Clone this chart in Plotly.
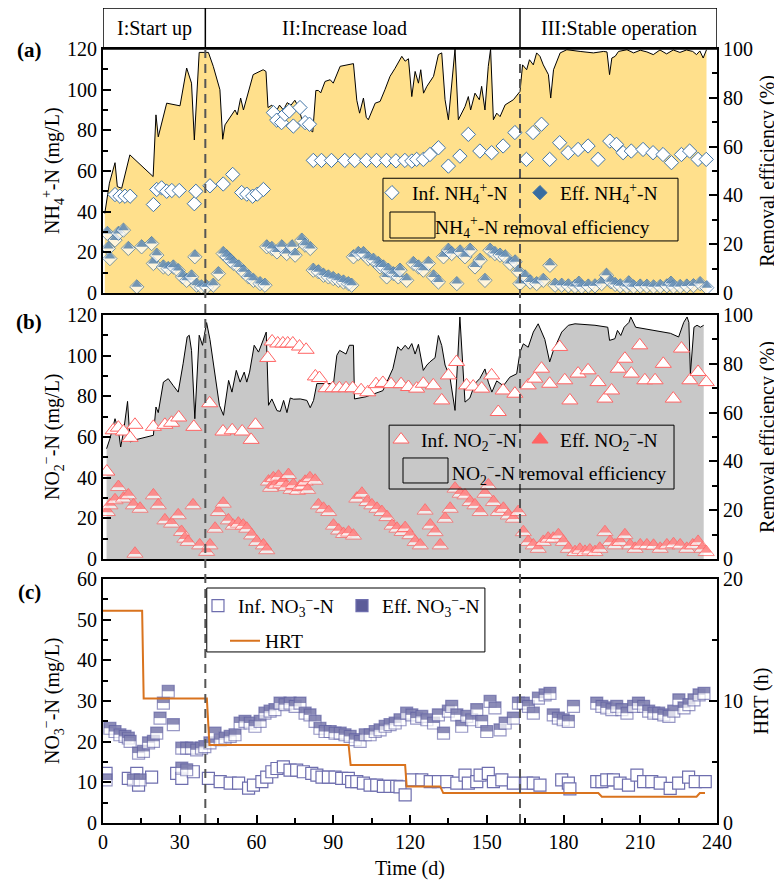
import numpy as np
import plotly.graph_objects as go

FONT = "Liberation Serif"

# ---------------- data: panel (a) NH4+-N ----------------
nh4_re_day = [0.7, 2.5, 4.7, 5.6, 7.3, 10.5, 19.6, 20.7, 21.6, 24.9, 30.1, 32.7, 34.6, 35.7, 37.6, 41.2, 43.1, 45.7,
              46.8, 47.7, 51.6, 52.5, 53.8, 54.9, 58.7, 62.6, 63.7, 64.5, 66, 67.5, 69, 70.5, 72, 73.5, 75, 76.5, 78,
              80, 82, 83.2, 84.2, 85.1, 86.8, 88.8, 90.0, 92.7, 97.9, 99.2, 100.3, 101.8, 102.9, 103.7, 106.4, 108.3,
              110.2, 112.2, 114.1, 116.8, 118.1, 119.4, 120.7, 122.0, 123.3, 124.2, 125.3, 126.6, 129.2, 131.1, 132.4,
              133.7, 135.0, 135.9, 137.6, 138.9, 140.2, 141.5, 142.8, 143.7, 145.4, 147.1, 148.0, 149.3, 150.6, 151.5,
              152.6, 153.9, 155.2, 157.2, 160.4, 163.0, 164.0, 165.6, 166.7, 168.2, 169.5, 170.8, 172.1, 174.1, 175.0,
              176.1, 178.7, 181.3, 186.5, 191.7, 195.6, 197, 198, 198.9, 200.2, 201.5, 204.8, 207.4, 210, 212.6, 215.1,
              217.7, 220.3, 222.9, 225.5, 228.1, 230.5, 232.0, 233.3, 234.6, 235.9]
nh4_re = [32.6, 45, 53.4, 43.6, 42.9, 56.6, 47.7, 73, 64, 77.8, 76.7, 92.2, 86, 62.7, 98.6, 98.6, 92.9, 83.3,
          63, 68.9, 75, 73, 79.9, 75, 89.5, 91.5, 90.8, 76, 77, 74, 77, 75, 78, 77, 79, 76, 70,
          67.5, 66, 83, 83, 82, 86.7, 87.4, 86, 92.9, 94, 79, 73.7, 79.9, 72, 71, 77.8, 78.5,
          83.3, 88.8, 92, 97, 95, 96, 80.5, 90.8, 86, 91.5, 81.9, 84.7, 88.8, 97.7, 98.4,
          79.2, 71, 80.5, 100, 71, 73.7, 76.4, 80.5, 75, 81.9, 79.2, 84.7, 75, 92.9, 100,
          71, 73.7, 72.3, 77.1, 79.2, 82.6, 93.5, 91.5, 95.6, 93.5, 98.4, 97, 93.5, 89.5, 79.9,
          91.5, 98.4, 99.7, 99, 98.4, 99, 98.8, 89.5, 96.3, 97, 99, 99.7, 98.4, 99.5, 98.8, 97.7,
          99.6, 98, 99.6, 98.6, 99.6, 99, 97.7, 99.2, 96.3, 99.7]

nh4_inf_day = [4.7, 6.6, 8.6, 10.6, 19.7, 21.0, 22.9, 24.9, 26.9, 29.8, 35.7, 36.3, 41.8, 47.0, 50.7, 54.2, 56.2,
               58.5, 60.3, 62.7, 66.6, 67.9, 69.8, 71.1, 72.8, 74.4, 77.0, 79.0, 80.7, 82.2, 85.4, 89.3, 94.5,
               98.4, 103.0, 106.9, 110.8, 114.5, 118.0, 120.7, 122.6, 125.2, 127.8, 131.1, 135.0, 139.5, 142.8,
               147.3, 151.9, 156.4, 161.0, 165.5, 168.1, 171.4, 174.6, 178.5, 181.8, 185.7, 189.6, 193.5, 198.1,
               200.7, 203.3, 206.5, 211.1, 215.0, 218.9, 222.2, 226.1, 229.3, 232.6, 235.8]
nh4_inf = [48.4, 47.6, 47.6, 47.6, 43.5, 50.9, 51.7, 50.0, 50.4, 50.4, 43.9, 50.0, 52.7, 53.6, 58.3, 49.4, 48.6,
           47.6, 48.6, 50.9, 88.7, 85.0, 83.8, 87.9, 89.5, 82.1, 91.2, 83.8, 83.0, 65.2, 65.2, 65.2, 65.2,
           65.2, 65.2, 65.2, 65.2, 65.0, 65.2, 64.9, 65.7, 65.7, 68.1, 71.4, 62.4, 67.3, 78.0,
           69.8, 69.0, 72.3, 78.9, 65.7, 78.9, 83.0, 65.7, 73.9, 69.0, 70.6, 72.3, 65.7, 74.7,
           73.1, 69.0, 69.8, 70.6, 69.0, 68.1, 64.1, 68.1, 69.8, 65.7, 65.7]

nh4_eff_day = [1.7, 2.1, 2.7, 4.7, 6.0, 8.0, 9.9, 13.2, 15.1, 19.0, 19.7, 21.0, 23.6, 25.5, 27.5, 29.4, 31.1, 32.7,
               34.6, 35.9, 36.6, 38.5, 40.5, 43.1, 45.1, 47.0, 48.4, 49.7, 51.0, 53.0, 54.9, 56.9, 58.8, 61.4,
               63.3, 64.0, 66.0, 68.0, 69.9, 71.8, 73.9, 75.1, 77.7, 79.0, 81.0, 82.2, 84.2, 86.2, 88.1, 90.0,
               92.0, 94.0, 95.9, 97.2, 97.9, 99.8, 101.8, 103.7, 105.7, 107.6, 108.3, 109.6, 110.9, 111.5, 113.5,
               115.4, 116.1, 118.7, 121.3, 123.3, 125.2, 127.2, 129.2, 131.1, 133.1, 135.0, 136.3, 138.3, 139.6,
               141.5, 143.5, 145.4, 147.4, 149.3, 151.3, 153.2, 155.2, 157.2, 159.1, 161.1, 162.4, 163.0, 165.0,
               167.0, 169.5, 172.1, 174.7, 176.7, 179.3, 181.9, 184.5, 186.0, 187.1, 189.7, 192.3, 194.9, 196.8,
               198.5, 200.2, 202.2, 204.8, 205.5, 207.4, 210.0, 212.6, 215.2, 217.8, 220.4, 222.0, 223.0, 225.6,
               228.2, 230.8, 233.4, 236.0]
nh4_eff = [29.3, 21.9, 16.9, 26.0, 29.3, 30.9, 21.9, 3.0, 22.7, 24.3, 14.5, 18.6, 12.8, 12.0, 12.8, 11.0, 7.9, 6.2,
           7.9, 17.8, 3.8, 3.0, 3.0, 3.8, 9.5, 19.4, 17.8, 16.1, 14.5, 12.8, 10.4, 7.9, 6.2, 4.6,
           3.8, 22.7, 21.9, 20.2, 22.7, 19.4, 22.7, 18.6, 26.0, 23.5, 21.9, 11.2, 10.4, 8.7, 7.9, 7.1,
           6.2, 5.4, 4.6, 3.8, 17.8, 19.4, 19.4, 16.9, 16.1, 14.5, 12.8, 12.8, 7.9, 11.2, 9.5,
           7.9, 11.2, 6.2, 14.5, 12.8, 11.2, 14.5, 7.9, 5.4, 17.8, 21.0, 19.4, 4.6, 20.2,
           17.8, 21.0, 12.8, 16.1, 6.2, 21.0, 19.4, 18.6, 17.8, 14.5, 15.3, 10.4, 4.6, 7.9,
           5.4, 4.6, 6.2, 13.6, 3.8, 3.8, 3.5, 3.2, 4.8, 3.0, 3.4, 3.5, 4.6, 8.7,
           5.5, 4.2, 3.5, 3.2, 5.0, 3.0, 3.4, 3.3, 3.0, 3.2, 3.5, 4.8, 3.0, 3.2,
           3.4, 3.6, 4.6, 2.6]

# ---------------- data: panel (b) NO2--N ----------------
no2_re_day = [1.4, 2.7, 4.7, 6.0, 6.9, 8.0, 9.6, 10.6, 13.2, 19.7, 20.7, 21.6, 23.6, 25.5, 27.5, 29.4, 31.3, 32.9,
              33.7, 34.6, 35.9, 37.6, 38.9, 40.5, 41.8, 43.8, 45.5, 47.1, 49.1, 50.4, 52.1, 53.6, 55.2, 56.2, 57.3,
              59.1, 60.8, 63.8, 64.7, 66, 68, 69.3, 70.6, 71.9, 73.2, 74.5, 77.1, 79.7, 81, 82.3, 83.6, 90.1, 91.4,
              92.5, 95, 96.3, 97.9, 98.3, 102.8, 109.4, 112, 113.3, 115.2, 116.5, 118.1, 119.4, 120.7, 122, 123.3,
              124.2, 125.2, 126.6, 127.8, 129.8, 131.1, 132.4, 133.7, 135.6, 137.6, 139.5, 141.5, 143.4, 145.4,
              147.3, 149.3, 150.6, 152, 153.9, 156.5, 159, 161.7, 163, 164.3, 166.2, 168.2, 170.1, 171.4, 172.7,
              174.6, 175.9, 179.3, 181.9, 184.5, 192.3, 197.3, 198, 200.1, 201.1, 202.4, 203.7, 205.6, 206.3, 208.2,
              212.1, 217.3, 221.8, 225, 227, 228.3, 229, 229.6, 231, 232.2, 233.5, 234.8]
no2_re = [45.2, 49.3, 57.5, 53, 45.9, 52, 64.6, 48, 49, 50.7, 62.3, 60, 72.5, 73.9, 71, 68.4, 80, 91,
          91.7, 85.5, 57.5, 91.7, 87.6, 96.9, 90, 75.3, 63, 58.9, 73.2, 68.4, 77.3, 72.5, 76.6, 72.5, 76.6,
          87.6, 84.8, 93, 63, 65.6, 60.8, 60.5, 65, 60, 66, 65.5, 65.6, 65, 62, 65, 71.9, 71.9, 83.5,
          85.5, 84, 87.6, 87.6, 65.6, 66.5, 69, 75, 78, 87, 85.5, 87.6, 86, 88.3, 84, 88,
          83, 77.3, 79.5, 80.8, 82.5, 91.6, 87.5, 79.5, 74.6, 60.9, 99.2, 64.3, 66, 71.9,
          74, 77.9, 72.5, 68.4, 73, 71, 74.5, 75.9, 84.8, 88.2, 86.8, 93, 96.4, 93, 90,
          80.8, 85, 93, 95.8, 96.4, 95.8, 95, 89.6, 90.3, 93.7, 91.6, 95, 97, 99.2, 95,
          94.3, 93.6, 92.5, 91, 97, 99.2, 97, 75.9, 95, 95.8, 95, 95.8]

no2_inf_day = [1.5, 4.0, 6.0, 8.0, 10.6, 12.5, 19.7, 24.2, 26.8, 29.6, 35.5, 41.7, 46.9, 50.5, 54.4, 57.9, 59.6,
               64.4, 66.1, 68.3, 70.3, 72.2, 74.2, 76.8, 79.4, 83.0, 84.6, 87.2, 89.8, 92.4, 95.0, 97.6, 100.9,
               103.5, 106.7, 109.4, 112.6, 116.5, 119.4, 122.6, 125.2, 129.1, 132.4, 135.0, 138.2, 142.1, 144.7,
               148.0, 151.9, 154.5, 156.4, 161.0, 166.2, 168.8, 171.4, 174.6, 178.5, 180.5, 182.5, 185.7, 189.6,
               193.5, 196.2, 198.8, 201.4, 204.0, 206.5, 209.8, 211.8, 215.8, 219.0, 222.9, 226.1, 229.4, 232.6,
               235.8]
no2_inf = [43.0, 63.3, 64.6, 62.7, 59.6, 66.0, 65.0, 66.0, 67.0, 69.6, 65.0, 76.6, 62.7, 63.3, 62.7, 58.6, 66.0,
           98.9, 107.0, 106.0, 106.0, 106.0, 106.0, 104.5, 102.9, 89.8, 89.0, 84.0, 84.0, 84.0, 84.0, 84.0, 83.0,
           82.0, 86.0, 86.6, 86.0, 86.0, 84.6, 83.8, 86.2, 85.4, 78.0, 90.3, 96.9, 85.4, 84.8,
           83.8, 90.3, 72.3, 82.9, 81.3, 85.4, 88.7, 93.6, 86.2, 104.3, 87.9, 78.0, 91.2, 92.8,
           87.0, 78.9, 82.9, 93.6, 98.5, 91.2, 105.1, 87.9, 87.9, 96.0, 78.9, 103.5, 87.9, 92.0,
           87.0]

no2_eff_day = [1.7, 2.7, 4.7, 6.0, 8.0, 9.9, 11.9, 12.5, 14.5, 19.7, 21.6, 24.2, 26.8, 29.4, 30.7, 32.0, 33.3, 35.2,
               37.8, 40.5, 41.8, 43.8, 45.1, 47.0, 49.0, 50.9, 52.9, 54.8, 56.2, 58.1, 60.1, 62.7, 64.0, 64.7, 65.5,
               66.6, 67.5, 68.6, 69.5, 70.5, 71.5, 72.5, 73.5, 74.4, 76.0, 77.0, 78.0, 79.0, 80.0, 80.9, 82.9, 84.2,
               86.2, 88.2, 90.1, 92.1, 94.0, 96.0, 97.9, 99.2, 101.2, 103.2, 105.1, 107.1, 109.0, 111.0, 113.0,
               114.9, 116.9, 118.1, 120.0, 122.0, 124.0, 125.9, 127.9, 129.8, 131.8, 133.7, 135.7, 137.6, 139.6,
               141.5, 143.5, 145.4, 147.4, 149.3, 150.6, 152.6, 154.5, 156.5, 158.4, 160.4, 162.3, 164.3, 166.2,
               168.2, 170.1, 172.1, 174.0, 176.0, 178.0, 179.9, 181.9, 184.5, 186.4, 188.4, 190.3, 192.3, 194.2,
               196.2, 198.2, 200.1, 202.1, 204.0, 206.0, 208.0, 210.0, 212.6, 215.2, 217.8, 220.4, 223.0, 225.6,
               228.2, 230.5, 232.6, 234.2, 235.8]
no2_eff = [23.1, 26.4, 28.9, 35.4, 29.7, 31.3, 26.4, 2.6, 24.7, 31.3, 26.4, 19.0, 17.4, 21.5, 13.3, 10.0, 8.4, 26.4,
           6.7, 3.5, 6.7, 14.9, 23.1, 27.2, 19.0, 16.4, 17.4, 16.4, 14.9, 11.6, 8.4, 6.7, 4.3, 38.1, 35.0,
           39.7, 36.5, 40.5, 37.0, 38.0, 35.5, 41.3, 34.0, 36.4, 33.5, 35.6, 36.0, 38.0, 34.0, 39.7, 38.5, 26.4,
           24.7, 23.1, 16.4, 14.0, 12.3, 13.0, 11.5, 29.7, 32.1, 28.0, 26.4, 24.7, 23.1, 20.6, 16.4,
           14.9, 13.3, 15.2, 11.7, 8.4, 6.7, 23.8, 16.5, 13.2, 6.7, 19.8, 24.7, 34.6, 32.1,
           31.3, 28.0, 26.4, 23.1, 32.1, 36.2, 28.0, 23.1, 24.7, 21.4, 19.8, 23.1, 13.2, 8.4,
           6.7, 5.0, 8.4, 10.0, 10.0, 11.7, 8.4, 5.0, 3.4, 4.5, 3.5, 4.2, 3.4, 5.0,
           13.2, 8.4, 6.7, 8.4, 11.7, 6.7, 5.0, 6.7, 6.7, 6.5, 5.0, 6.7, 7.3, 6.7,
           5.0, 6.7, 8.4, 5.0, 3.4]

# ---------------- data: panel (c) NO3--N and HRT ----------------
no3_inf_day = [1.2, 9.9, 13.2, 13.9, 19.0, 28.8, 30.8, 35.3, 41.2, 45.8, 49.7, 53.0, 56.9, 58.8, 62.1, 64.0, 66.0,
               68.0, 70.5, 73.1, 75.7, 78.3, 81.6, 83.6, 85.6, 88.1, 90.7, 93.3, 95.9, 97.2, 99.2, 101.8, 104.4,
               107.0, 109.6, 112.2, 114.8, 116.1, 118.1, 120.7, 124.6, 127.9, 131.1, 134.4, 138.3, 141.5, 142.8,
               146.1, 147.4, 150.6, 152.6, 155.9, 160.4, 165.6, 168.2, 170.8, 179.3, 181.9, 182.5, 193.0, 195.0,
               196.9, 199.5, 202.1, 205.4, 208.7, 211.3, 214.5, 217.8, 221.7, 225.0, 228.9, 231.5, 235.4]
no3_inf = [12.2, 11.0, 12.2, 9.3, 11.3, 12.2, 11.0, 12.6, 11.0, 10.2, 9.8, 9.8, 8.6, 9.3, 10.2, 11.3, 12.6,
           13.4, 13.8, 13.0, 13.0, 12.6, 12.2, 11.8, 11.3, 11.3, 11.3, 11.0, 11.0, 10.2, 10.2, 9.8, 9.3,
           9.3, 9.0, 9.0, 9.0, 8.9, 6.9, 10.6, 10.6, 10.2, 10.2, 10.2, 9.8, 11.8, 9.8,
           10.2, 11.8, 12.2, 10.2, 10.6, 9.8, 9.8, 9.8, 9.3, 10.6, 9.8, 8.4, 10.2, 10.2,
           10.6, 10.6, 9.8, 9.3, 11.8, 10.2, 10.2, 9.8, 8.5, 9.8, 11.3, 10.2, 10.2]

no3_eff_day = [1.2, 2.7, 4.7, 6.6, 8.6, 9.9, 10.6, 11.9, 13.9, 14.5, 15.8, 17.8, 19.7, 21.0, 22.3, 23.6, 25.5, 27.5,
               30.8, 30.8, 32.7, 32.7, 34.6, 36.6, 38.5, 39.8, 41.8, 43.8, 45.8, 47.7, 49.7, 51.6, 53.6, 55.5,
               57.5, 59.4, 61.4, 63.3, 65.3, 67.2, 69.2, 71.1, 73.1, 75.1, 77.0, 79.0, 80.9, 82.9, 84.8, 86.8,
               88.8, 90.7, 92.7, 94.6, 96.6, 98.6, 100.5, 102.5, 104.4, 106.4, 108.3, 110.3, 112.2, 114.2, 116.1,
               118.7, 120.7, 122.6, 124.6, 126.6, 129.2, 131.1, 133.1, 135.0, 136.3, 138.3, 140.2, 142.2, 144.1,
               146.1, 148.0, 150.0, 151.3, 153.2, 155.2, 157.2, 160.4, 162.4, 164.3, 166.3, 168.2, 170.2, 172.8,
               174.7, 176.0, 178.0, 179.9, 181.9, 183.9, 193.0, 195.0, 196.9, 198.9, 200.8, 202.8, 204.8, 207.4,
               209.3, 211.3, 213.3, 215.3, 217.2, 219.2, 221.2, 223.1, 225.1, 227.1, 229.0, 231.0, 233.0, 234.9]
no3_eff = [10.6, 23.3, 22.5, 21.7, 21.3, 20.9, 20.1, 10.6, 17.2, 10.6, 17.6, 19.7, 20.1, 22.1, 25.8, 29.5, 32.4, 24.2,
           18.4, 13.5, 13.1, 18.4, 18.4, 18.0, 18.4, 18.8, 19.7, 22.1, 20.5, 20.9, 21.3, 21.7, 24.6, 25.0,
           24.6, 23.8, 25.0, 27.0, 27.5, 27.9, 29.5, 29.1, 29.5, 28.7, 29.5, 27.0, 26.6, 25.0, 23.3, 22.5,
           22.5, 22.1, 22.1, 21.7, 21.3, 20.5, 20.1, 21.7, 21.7, 22.5, 22.9, 23.8, 24.2, 24.6, 25.4,
           27.0, 26.6, 25.8, 26.2, 25.4, 24.6, 26.6, 22.1, 27.5, 28.7, 26.6, 23.8, 26.2, 25.4,
           27.9, 25.0, 22.5, 29.9, 28.3, 22.9, 24.6, 25.8, 29.5, 29.5, 28.7, 27.0, 30.7, 31.5,
           31.9, 26.6, 25.8, 25.4, 25.0, 28.7, 29.5, 28.7, 28.3, 27.9, 28.7, 27.9, 27.0, 28.7,
           29.5, 28.7, 27.5, 27.0, 27.0, 26.6, 26.2, 27.5, 30.3, 28.3, 29.1, 30.3, 31.5, 31.9]

hrt_day = [0, 15.3, 15.9, 40.6, 41.6, 96.0, 96.8, 118.1, 118.7, 131.8, 133.0, 193.6, 195.0, 232.0, 233.3, 235.3]
hrt_h = [17.4, 17.4, 10.2, 10.2, 6.4, 6.4, 4.75, 4.75, 3.0, 3.0, 2.45, 2.45, 2.16, 2.16, 2.45, 2.45]

phase_bounds = [0, 40, 163, 240]
phase_labels = ["I:Start up", "II:Increase load", "III:Stable operation"]
phase_label_x = [20, 94.5, 201.5]

# ---------------- styles ----------------
YEL = "#FFE08C"
GRAY = "#C8C8C8"
BLUE = "#386CA0"
BLUE_E = "#3F73A6"
RED = "#FF6464"
PURP = "#5C5C99"
PURP_E = "#6E6EAE"
ORANGE = "#D9731E"


def half_trace(xs, ys, base_sym, base_size, edge, edge_w, half_sym, half_size, standoff,
               fill, half_lw, xa, ya):
    """Each point: white marker with coloured edge, then its upper part filled (drawn point by point)."""
    xs = np.asarray(xs, float)
    ys = np.asarray(ys, float)
    n = len(xs)
    return go.Scatter(
        x=np.repeat(xs, 2), y=np.repeat(ys, 2), mode="markers", xaxis=xa, yaxis=ya,
        showlegend=False, hoverinfo="skip",
        marker=dict(symbol=[base_sym, half_sym] * n, size=[base_size, half_size] * n,
                    color=["white", fill] * n, angle=[0, 180] * n, standoff=[0, standoff] * n,
                    line=dict(width=[edge_w, half_lw] * n, color=[edge, fill] * n)))


fig = go.Figure()

# ---- panel (a)
fig.add_trace(go.Scatter(x=nh4_re_day, y=nh4_re, xaxis="x3", yaxis="y5", mode="lines", fill="tozeroy",
                         fillcolor=YEL, line=dict(color="black", width=1), showlegend=False,
                         hoverinfo="skip"))
fig.add_trace(go.Scatter(x=nh4_inf_day, y=nh4_inf, xaxis="x3", yaxis="y6", mode="markers",
                         marker=dict(symbol="diamond", size=11, color="white", line=dict(color=BLUE_E, width=1)),
                         name="Inf. NH<sub>4</sub><sup>+</sup>-N", legend="legend", hoverinfo="skip"))
fig.add_trace(half_trace(nh4_eff_day, nh4_eff, "diamond", 11, BLUE_E, 1, "triangle-down", 9.6, 2.4,
                         BLUE, 0, "x3", "y6"))
fig.add_trace(go.Scatter(x=[None], y=[None], xaxis="x3", yaxis="y6", mode="markers",
                         marker=dict(symbol="diamond", size=11, color=BLUE, line=dict(color=BLUE_E, width=1)),
                         name="Eff. NH<sub>4</sub><sup>+</sup>-N", legend="legend"))
fig.add_trace(go.Scatter(x=[None], y=[None], xaxis="x3", yaxis="y5", mode="none",
                         name="NH<sub>4</sub><sup>+</sup>-N removal efficiency", legend="legend2"))

# ---- panel (b)
fig.add_trace(go.Scatter(x=no2_re_day, y=no2_re, xaxis="x2", yaxis="y3", mode="lines", fill="tozeroy",
                         fillcolor=GRAY, line=dict(color="black", width=1), showlegend=False,
                         hoverinfo="skip"))
fig.add_trace(go.Scatter(x=no2_inf_day, y=no2_inf, xaxis="x2", yaxis="y4", mode="markers",
                         marker=dict(symbol="triangle-up", size=14, color="white", line=dict(color=RED, width=1)),
                         name="Inf. NO<sub>2</sub><sup>−</sup>-N", legend="legend3", hoverinfo="skip"))
fig.add_trace(half_trace(no2_eff_day, no2_eff, "triangle-up", 14, RED, 1, "triangle-down", 9.8, 2.1,
                         RED, 0, "x2", "y4"))
fig.add_trace(go.Scatter(x=[None], y=[None], xaxis="x2", yaxis="y4", mode="markers",
                         marker=dict(symbol="triangle-up", size=14, color=RED, line=dict(color=RED, width=1)),
                         name="Eff. NO<sub>2</sub><sup>−</sup>-N", legend="legend3"))
fig.add_trace(go.Scatter(x=[None], y=[None], xaxis="x2", yaxis="y3", mode="none",
                         name="NO<sub>2</sub><sup>−</sup>-N removal efficiency", legend="legend4"))

# ---- panel (c)
fig.add_trace(go.Scatter(x=no3_inf_day, y=no3_inf, xaxis="x", yaxis="y", mode="markers",
                         marker=dict(symbol="square", size=12, color="white", line=dict(color=PURP_E, width=1.2)),
                         name="Inf. NO<sub>3</sub><sup>−</sup>-N", legend="legend5", hoverinfo="skip"))
fig.add_trace(half_trace(no3_eff_day, no3_eff, "square", 12, PURP_E, 1.2, "line-ew", 8.57, 3,
                         PURP, 6, "x", "y"))
fig.add_trace(go.Scatter(x=[None], y=[None], xaxis="x", yaxis="y", mode="markers",
                         marker=dict(symbol="square", size=12, color=PURP, line=dict(color=PURP_E, width=1.2)),
                         name="Eff. NO<sub>3</sub><sup>−</sup>-N", legend="legend5"))
fig.add_trace(go.Scatter(x=hrt_day, y=hrt_h, xaxis="x", yaxis="y2", mode="lines",
                         line=dict(color=ORANGE, width=2), name="HRT", legend="legend6", hoverinfo="skip"))

# ---------------- axes ----------------
TF = dict(family=FONT, size=20, color="black")
base_ax = dict(showline=True, linewidth=2, linecolor="black", ticks="inside", ticklen=8, tickwidth=1.5,
               tickcolor="black", tickfont=TF, showgrid=False, zeroline=False)

dom_a = [0.6848, 1.0]
dom_b = [0.3411, 0.6563]
dom_c = [0.0, 0.3152]


def mnr(d):
    return dict(ticks="inside", ticklen=5, dtick=d, tickcolor="black", tickwidth=1.5)


fig.update_layout(
    xaxis=dict(base_ax, domain=[0, 1], range=[0, 240], anchor="y", dtick=30, mirror=True, minor=mnr(15),
               title=dict(text="Time (d)", font=TF, standoff=9)),
    xaxis2=dict(showline=True, linewidth=2, linecolor="black", mirror=True, range=[0, 240], anchor="y3",
                showticklabels=False, ticks="", showgrid=False, zeroline=False),
    xaxis3=dict(showline=True, linewidth=2, linecolor="black", mirror=True, range=[0, 240], anchor="y5",
                showticklabels=False, ticks="", showgrid=False, zeroline=False),
    yaxis=dict(base_ax, domain=dom_c, range=[0, 60], dtick=10, side="left", anchor="x", minor=mnr(5)),
    yaxis2=dict(base_ax, range=[0, 20], dtick=10, side="right", anchor="x", overlaying="y", minor=mnr(5),
                title=dict(text="HRT (h)", font=TF, standoff=12)),
    yaxis3=dict(base_ax, domain=dom_b, range=[0, 100], dtick=20, side="right", anchor="x2", minor=mnr(10),
                title=dict(text="Removal efficiency (%)", font=TF, standoff=8)),
    yaxis4=dict(base_ax, range=[0, 120], dtick=20, side="left", anchor="x2", overlaying="y3", minor=mnr(10)),
    yaxis5=dict(base_ax, domain=dom_a, range=[0, 100], dtick=20, side="right", anchor="x3", minor=mnr(10),
                title=dict(text="Removal efficiency (%)", font=TF, standoff=8)),
    yaxis6=dict(base_ax, range=[0, 120], dtick=20, side="left", anchor="x3", overlaying="y5", minor=mnr(10)),
)

# ---------------- legends ----------------
LF = dict(family=FONT, size=19.5, color="black")
leg_common = dict(orientation="h", xanchor="left", yanchor="middle", bgcolor="rgba(0,0,0,0)",
                  borderwidth=0, font=LF, itemclick=False, itemdoubleclick=False, entrywidthmode="pixels")
fig.update_layout(
    legend=dict(leg_common, x=0.438, y=0.814, entrywidth=103),
    legend2=dict(leg_common, x=0.4756, y=0.771),
    legend3=dict(leg_common, x=0.4528, y=0.495, entrywidth=94),
    legend4=dict(leg_common, x=0.503, y=0.452),
    legend5=dict(leg_common, x=0.1547, y=0.2804, entrywidth=99),
    legend6=dict(leg_common, x=0.1987, y=0.235),
)

# ---------------- shapes & annotations ----------------
shapes = []
shapes.append(dict(type="rect", xref="x", yref="paper", x0=phase_bounds[0], x1=phase_bounds[-1],
                   y0=1.0, y1=1.053, line=dict(color="black", width=1.5)))
for b in phase_bounds[1:-1]:
    shapes.append(dict(type="line", xref="x", yref="paper", x0=b, x1=b, y0=1.0, y1=1.053,
                       line=dict(color="black", width=1.5)))
    shapes.append(dict(type="line", xref="x", yref="paper", x0=b, x1=b, y0=0, y1=1.0,
                       line=dict(color="#555555", width=2, dash="9px,6px")))
for x0, x1, y0, y1 in [(0.456, 0.9365, 0.752, 0.833), (0.466, 0.930, 0.4315, 0.514),
                       (0.169, 0.622, 0.221, 0.3036)]:
    shapes.append(dict(type="rect", xref="paper", yref="paper", x0=x0, x1=x1, y0=y0, y1=y1,
                       line=dict(color="black", width=1)))
shapes.append(dict(type="rect", xref="paper", yref="paper", x0=0.4674, x1=0.5407, y0=0.7558, y1=0.7894,
                   fillcolor=YEL, line=dict(color="black", width=1)))
shapes.append(dict(type="rect", xref="paper", yref="paper", x0=0.4886, x1=0.5619, y0=0.4393, y1=0.4716,
                   fillcolor=GRAY, line=dict(color="black", width=1)))

annotations = []
for lab, xm in zip(phase_labels, phase_label_x):
    annotations.append(dict(text=lab, x=xm, xref="x", y=1.0265, yref="paper", showarrow=False,
                            font=dict(family=FONT, size=20, color="black"), xanchor="center", yanchor="middle"))
for lab, yy in [("(a)", 0.9987), ("(b)", 0.6473), ("(c)", 0.2984)]:
    annotations.append(dict(text="<b>" + lab + "</b>", x=-0.1205, y=yy, xref="paper", yref="paper",
                            showarrow=False, font=dict(family=FONT, size=21, color="black"),
                            xanchor="center", yanchor="middle"))
# left axis titles (placed as rotated annotations for exact position)
for lab, yy in [("NH<sub>4</sub><sup>+</sup>-N (mg/L)", sum(dom_a) / 2),
                ("NO<sub>2</sub><sup>−</sup>-N (mg/L)", sum(dom_b) / 2),
                ("NO<sub>3</sub><sup>−</sup>-N (mg/L)", sum(dom_c) / 2)]:
    annotations.append(dict(text=lab, x=-0.0814, y=yy, xref="paper", yref="paper", textangle=-90,
                            showarrow=False, font=TF, xanchor="center", yanchor="middle"))

# the page body keeps an 8 px margin, so the figure is sized to land the plot where the reference has it
fig.update_layout(
    shapes=shapes, annotations=annotations,
    width=774, height=876, margin=dict(l=95, r=65, t=41, b=61, autoexpand=False),
    paper_bgcolor="white", plot_bgcolor="rgba(0,0,0,0)",
    font=dict(family=FONT, size=19, color="black"),
    hovermode=False,
)

fig.write_html("out.html")
